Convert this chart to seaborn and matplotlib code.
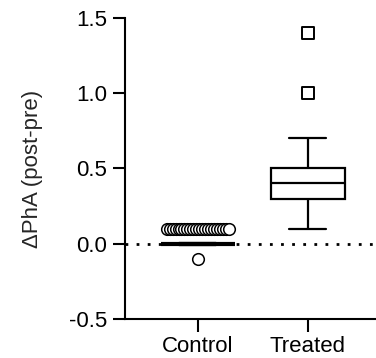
import numpy as np
import pandas as pd
import matplotlib
matplotlib.use('Agg')
import matplotlib.pyplot as plt
import seaborn as sns

sns.set_style('ticks')
plt.rcParams['font.family'] = ['Liberation Sans', 'DejaVu Sans']

# data
control = [0.0] * 70 + [0.1] * 22 + [-0.1]
treated = [0.1, 0.2, 0.3, 0.3, 0.3, 0.4, 0.4, 0.4, 0.4,
           0.5, 0.5, 0.5, 0.5, 0.6, 0.7, 1.0, 1.4]
groups = ['Control', 'Treated']

df = pd.DataFrame({
    'group': ['Control'] * len(control) + ['Treated'] * len(treated),
    'value': control + treated,
})

# Tukey outliers per group
def outliers(vals):
    v = np.array(vals)
    q1, q3 = np.percentile(v, [25, 75])
    iqr = q3 - q1
    return v[(v < q1 - 1.5 * iqr) | (v > q3 + 1.5 * iqr)]

# spread tied outliers side by side (like a packed swarm)
def spread(vals, center, step):
    xs, ys = [], []
    for y in np.unique(vals):
        n = int(np.sum(vals == y))
        xs.extend(center + (np.arange(n) - (n - 1) / 2) * step)
        ys.extend([y] * n)
    return np.array(xs), np.array(ys)

out_ctrl = outliers(control)
out_trt = pd.DataFrame({'group': 'Treated', 'value': outliers(treated)})

fig = plt.figure(figsize=(3.76, 3.58), dpi=100)
ax = fig.add_axes([0.333, 0.109, 0.667, 0.841])

lw = 1.6
sns.boxplot(data=df, x='group', y='value', order=groups, ax=ax,
            width=0.67, showfliers=False, whis=1.5,
            color='white', linecolor='black', linewidth=lw,
            medianprops=dict(linewidth=lw),
            capprops=dict(linewidth=lw), whiskerprops=dict(linewidth=lw))

# collapsed control box looks heavier
for ln in ax.lines:
    y = ln.get_ydata()
    if len(y) and np.allclose(y, 0):
        ln.set_linewidth(3.0)

# control outliers as overlapping circles
cx, cy = spread(out_ctrl, groups.index('Control'), 0.027)
ax.scatter(cx, cy, s=70, facecolor='white', edgecolor='black',
           linewidth=1.1, zorder=3)

# treated outliers as squares
sns.stripplot(data=out_trt, x='group', y='value', order=groups, ax=ax,
              jitter=False, marker='s', size=8, color='white',
              edgecolor='black', linewidth=1.4)

ax.axhline(0, color='black', linestyle=(0, (1, 3)), linewidth=2, zorder=0.5)

ax.set_xlim(-0.66, 1.62)
ax.set_ylim(-0.5, 1.5)
ax.set_yticks([-0.5, 0.0, 0.5, 1.0, 1.5])
ax.set_yticklabels(['-0.5', '0.0', '0.5', '1.0', '1.5'])
ax.set_xlabel('')
ax.set_ylabel('ΔPhA (post-pre)', fontsize=16, labelpad=19)
ax.tick_params(axis='both', labelsize=16, length=9, width=1.5, colors='black')
ax.tick_params(axis='y', pad=4)
ax.tick_params(axis='x', pad=3)

sns.despine(ax=ax)
for s in ['left', 'bottom']:
    ax.spines[s].set_linewidth(1.5)
    ax.spines[s].set_color('black')

plt.savefig('out.png', dpi=100)
